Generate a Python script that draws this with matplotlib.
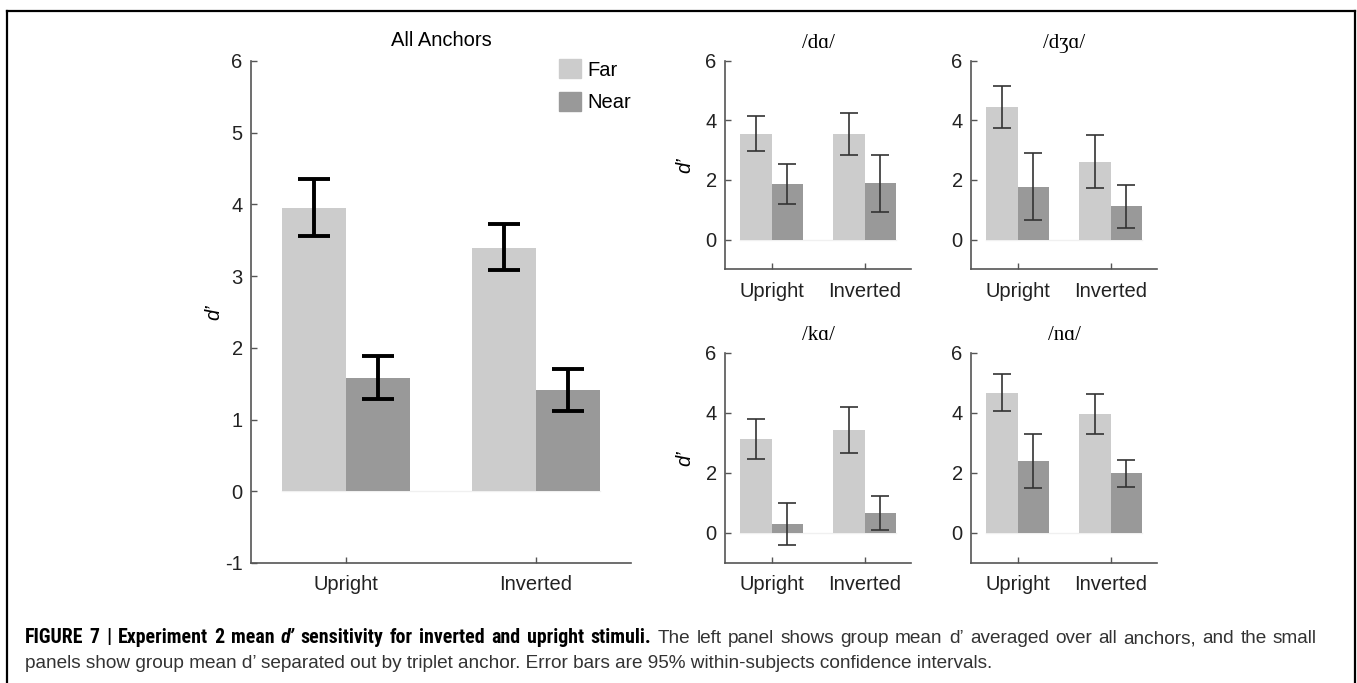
import numpy as np
import matplotlib
matplotlib.use("Agg")
import matplotlib.pyplot as plt
from matplotlib.patches import Patch
from matplotlib.lines import Line2D
from matplotlib import font_manager

plt.rcParams["font.family"] = ["Liberation Sans", "DejaVu Sans"]
plt.rcParams["axes.unicode_minus"] = False

W, H = 1357, 683

# Данные
conditions = ["Upright", "Inverted"]
series = ["Far", "Near"]

# Все якоря: [Far, Near] x [Upright, Inverted]
all_mean = {"Far": [3.95, 3.39], "Near": [1.58, 1.41]}
all_lo = {"Far": [3.56, 3.08], "Near": [1.29, 1.12]}
all_hi = {"Far": [4.35, 3.73], "Near": [1.88, 1.71]}

anchors = ["/dɑ/", "/dʒɑ/", "/kɑ/", "/nɑ/"]
anc_mean = {
    "Far": [[3.55, 3.54], [4.45, 2.61], [3.11, 3.42], [4.67, 3.96]],
    "Near": [[1.87, 1.90], [1.77, 1.11], [0.28, 0.65], [2.39, 1.98]],
}
anc_lo = {
    "Far": [[2.96, 2.85], [3.73, 1.73], [2.45, 2.67], [4.07, 3.28]],
    "Near": [[1.20, 0.93], [0.64, 0.39], [-0.41, 0.09], [1.50, 1.52]],
}
anc_hi = {
    "Far": [[4.15, 4.26], [5.15, 3.52], [3.80, 4.18], [5.28, 4.64]],
    "Near": [[2.54, 2.85], [2.89, 1.83], [0.98, 1.22], [3.29, 2.42]],
}

caption_bold = "FIGURE 7 | Experiment 2 mean d’ sensitivity for inverted and upright stimuli."
caption_rest = ("The left panel shows group mean d’ averaged over all anchors, and the small "
                "panels show group mean d’ separated out by triplet anchor. "
                "Error bars are 95% within-subjects confidence intervals.")

colors = {"Far": "#cccccc", "Near": "#999999"}
axis_col = "#555555"
bw = 0.335
fs = 14.5


def px_axes(fig, x0, x1, y0, y1):
    return fig.add_axes([x0 / W, 1 - y1 / H, (x1 - x0) / W, (y1 - y0) / H])


def style_axes(ax, yticks):
    for s in ["top", "right"]:
        ax.spines[s].set_visible(False)
    for s in ["left", "bottom"]:
        ax.spines[s].set_color(axis_col)
        ax.spines[s].set_linewidth(1.2)
    ax.tick_params(direction="in", length=4, width=1, color=axis_col,
                   labelsize=fs, labelcolor="#222222")
    ax.tick_params(axis="x", pad=9)
    ax.tick_params(axis="y", pad=6)
    ax.set_xlim(0.5, 2.5)
    ax.set_ylim(-1, 6)
    ax.set_yticks(yticks)
    ax.set_xticks([1, 2])
    ax.set_xticklabels(conditions)


def draw_bars(ax, means, lo, hi, err_lw, cap, err_col):
    x = np.arange(1, len(conditions) + 1)
    ax.plot([x[0] - bw, x[-1] + bw], [0, 0], color="#f0f0f0", lw=1, zorder=1)
    for k, s in enumerate(series):
        xs = x + (k - 0.5) * bw
        m = np.array(means[s])
        ax.bar(xs, m, bw, color=colors[s], zorder=2, label=s)
        yerr = [m - np.array(lo[s]), np.array(hi[s]) - m]
        ax.errorbar(xs, m, yerr=yerr, fmt="none", ecolor=err_col,
                    elinewidth=err_lw, capsize=cap, capthick=err_lw, zorder=3)


fig = plt.figure(figsize=(W / 100, H / 100), dpi=100)

# Рамка
fig.add_artist(Line2D([7 / W, 7 / W], [0, 1 - 11 / H], color="black", lw=1.6))
fig.add_artist(Line2D([7 / W, 1355 / W], [1 - 11 / H, 1 - 11 / H], color="black", lw=1.6))
fig.add_artist(Line2D([1355 / W, 1355 / W], [1 - 11 / H, 0], color="black", lw=1.6))

# Большая панель
ax = px_axes(fig, 251, 631, 61, 563)
draw_bars(ax, all_mean, all_lo, all_hi, 2.8, 11.5, "black")
style_axes(ax, range(-1, 7))
ax.set_title("All Anchors", fontsize=fs, pad=11)
ax.set_ylabel("d’", fontstyle="italic", fontsize=fs, labelpad=1)
handles = [Patch(color=colors[s]) for s in series]
ax.legend(handles, series, loc="upper left", frameon=False, fontsize=fs,
          handlelength=1.1, handleheight=1.1, handletextpad=0.3,
          labelspacing=0.6, borderpad=0, borderaxespad=0,
          bbox_to_anchor=(559 / W, 1 - 59 / H), bbox_transform=fig.transFigure)

# Маленькие панели
boxes = [(725, 911, 60.7, 269.3), (971, 1157, 60.7, 269.3),
         (725, 911, 352.7, 562.7), (971, 1157, 352.7, 562.7)]
for i, (x0, x1, y0, y1) in enumerate(boxes):
    a = px_axes(fig, x0, x1, y0, y1)
    m = {s: anc_mean[s][i] for s in series}
    lo = {s: anc_lo[s][i] for s in series}
    hi = {s: anc_hi[s][i] for s in series}
    draw_bars(a, m, lo, hi, 1.2, 6.8, "#333333")
    style_axes(a, [0, 2, 4, 6])
    a.set_title(anchors[i], fontsize=15, family=["Liberation Serif", "DejaVu Serif"], pad=9)
    if i % 2 == 0:
        a.set_ylabel("d’", fontstyle="italic", fontsize=fs, labelpad=8)

# Подпись: первая строка выровнена по ширине
fig.canvas.draw()
r = fig.canvas.get_renderer()
cap_size = 13.7

# узкий жирный шрифт, если он есть
names = {f.name for f in font_manager.fontManager.ttflist}
bold_font = ["Liberation Sans"]
bold_size = 11.2
for cand in ["Liberation Sans Narrow", "Roboto Condensed", "Open Sans Condensed"]:
    if cand in names:
        bold_font = [cand, "Liberation Sans"]
        bold_size = 14.3
        break

words = [(w, "bold", "italic" if w == "d’" else "normal", "black", bold_font, bold_size)
         for w in caption_bold.split()]
rest = caption_rest.split()
n1 = rest.index("small") + 1
words += [(w, "normal", "normal", "#333333", ["Liberation Sans"], cap_size) for w in rest[:n1]]
line2 = " ".join(rest[n1:])

texts = []
for w, wt, st, c, fam, sz in words:
    t = fig.text(0, 1 - 643 / H, w, fontsize=sz, fontweight=wt, fontstyle=st,
                 color=c, family=fam, va="baseline", ha="left")
    texts.append(t)
widths = [t.get_window_extent(r).width for t in texts]
x_left, x_right = 25, 1317
gap = (x_right - x_left - sum(widths)) / (len(texts) - 1)
xpx = x_left
for t, wd in zip(texts, widths):
    t.set_x(xpx / W)
    xpx += wd + gap

fig.text(x_left / W, 1 - 668 / H, line2, fontsize=cap_size, color="#333333",
         va="baseline", ha="left")

fig.savefig("out.png", dpi=100)
